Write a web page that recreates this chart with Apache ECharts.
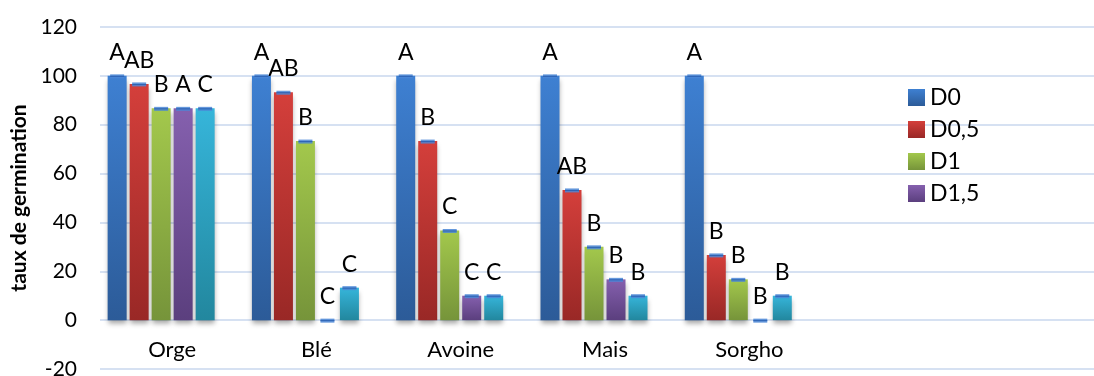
<!DOCTYPE html>
<html>
<head>
<meta charset="utf-8">
<script src="https://cdn.jsdelivr.net/npm/echarts@6/dist/echarts.min.js"></script>
<style>
  html, body { margin: 0; padding: 0; background: #fff; }
  #chart { width: 1094px; height: 376px; }
</style>
</head>
<body>
<div id="chart"></div>
<script>
// categories (last two slots are empty in the original)
const categories = ['Orge', 'Blé', 'Avoine', 'Mais', 'Sorgho', '', '']
const seriesNames = ['D0', 'D0,5', 'D1', 'D1,5', 'D2', '']

const d0 = [100, 100, 100, 100, 100]
const d05 = [96.7, 93.3, 73.3, 53.3, 26.7]
const d1 = [86.7, 73.3, 36.7, 30, 16.7]
const d15 = [86.7, 0, 10, 16.7, 0]
const d2 = [86.7, 13.3, 10, 10, 10]
const d25 = [null, null, null, null, null]

// significance letters
const letD0 = ['A', 'A', 'A', 'A', 'A']
const letD05 = ['AB', 'AB', 'B', 'AB', 'B']
const letD1 = ['B', 'B', 'C', 'B', 'B']
const letD15 = ['A', 'C', 'C', 'B', 'B']
const letD2 = ['C', 'C', 'C', 'B', 'B']

const yTicks = { min: -20, max: 120, interval: 20 }

const values = [d0, d05, d1, d15, d2, d25]
const letters = [letD0, letD05, letD1, letD15, letD2, []]
const colors = [
  ['#3e80d2', '#2c5b98'],
  ['#d43f3b', '#992826'],
  ['#a3c84c', '#76943a'],
  ['#8560ae', '#5b3f7e'],
  ['#36b5da', '#22879e']
]

const BAR_W = 19
const BAR_GAP = 3

const chart = echarts.init(document.getElementById('chart'))

const barSeries = values.map((data, s) => ({
  name: seriesNames[s],
  type: 'bar',
  data: data,
  barWidth: BAR_W,
  barGap: (BAR_GAP / BAR_W * 100) + '%',
  itemStyle: colors[s] ? {
    color: new echarts.graphic.LinearGradient(0, 0, 0, 1, [
      { offset: 0, color: colors[s][0] },
      { offset: 1, color: colors[s][1] }
    ]),
    shadowColor: 'rgba(0,0,0,0.35)',
    shadowBlur: 5,
    shadowOffsetY: 4
  } : {},
  label: {
    show: true,
    position: 'top',
    distance: 12,
    fontFamily: 'Lato',
    fontSize: 23,
    color: '#000',
    formatter: p => letters[s][p.dataIndex] || ''
  },
  z: 2
}))

// small error caps on each bar
const capData = []
values.slice(0, 5).forEach((arr, s) => {
  arr.forEach((v, i) => capData.push([i, v, s]))
})

const capSeries = {
  type: 'custom',
  data: capData,
  z: 5,
  silent: true,
  renderItem: (params, api) => {
    const s = api.value(2)
    const p = api.coord([api.value(0), api.value(1)])
    const x = p[0] + (s - 2.5) * (BAR_W + BAR_GAP)
    return {
      type: 'group',
      children: [
        { type: 'rect', shape: { x: x - 7, y: p[1] - 1.5, width: 14, height: 4 }, style: { fill: '#4a86d6', opacity: 0.85 } },
        { type: 'line', shape: { x1: x - 7, y1: p[1] + 0.5, x2: x + 7, y2: p[1] + 0.5 }, style: { stroke: '#2d62b3', lineWidth: 1 } }
      ]
    }
  }
}

chart.setOption({
  animation: false,
  textStyle: { fontFamily: 'Lato' },
  grid: { left: 100, top: 27, bottom: 7, width: 1010, outerBoundsMode: 'none', containLabel: false },
  legend: {
    data: ['D0', 'D0,5', 'D1', 'D1,5'],
    orient: 'vertical',
    left: 903,
    top: 81,
    itemWidth: 17,
    itemHeight: 17,
    itemGap: 9,
    icon: 'rect',
    textStyle: { fontFamily: 'Lato', fontSize: 23, color: '#000' }
  },
  xAxis: {
    type: 'category',
    data: categories,
    axisLine: { show: false, onZero: false },
    axisTick: { show: false },
    axisLabel: { fontFamily: 'Lato', fontSize: 22, color: '#000', margin: -30 },
    splitLine: { show: false }
  },
  yAxis: {
    type: 'value',
    min: yTicks.min,
    max: yTicks.max,
    interval: yTicks.interval,
    name: 'taux de germination',
    nameLocation: 'middle',
    nameRotate: 90,
    nameGap: 67,
    nameTextStyle: { fontFamily: 'Lato', fontSize: 21, fontWeight: 'bold', color: '#000' },
    axisLine: { show: false },
    axisTick: { show: false },
    axisLabel: { fontFamily: 'Lato', fontSize: 21, color: '#000', margin: 23 },
    splitLine: { lineStyle: { color: '#d6e1f2', width: 2 } }
  },
  series: [...barSeries, capSeries]
})
</script>
</body>
</html>
